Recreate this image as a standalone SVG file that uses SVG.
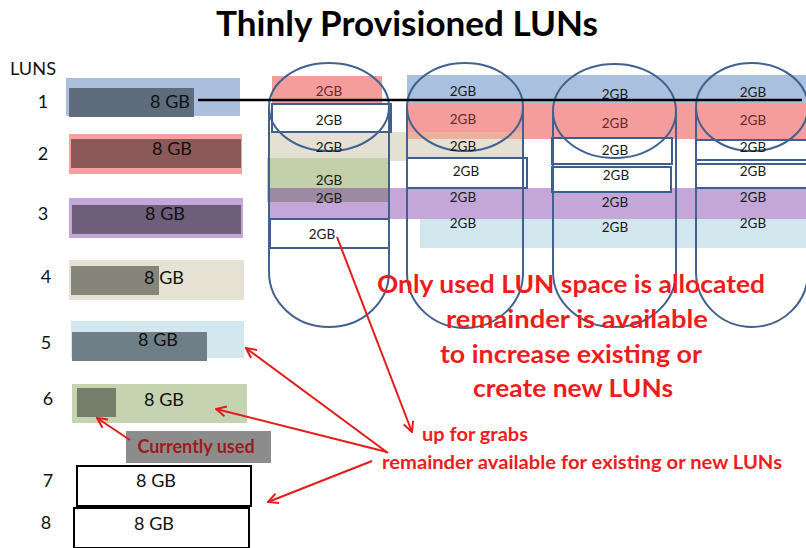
<svg xmlns="http://www.w3.org/2000/svg" width="806" height="548" viewBox="0 0 806 548">
<style>
text{font-family:Lato,"Liberation Sans",sans-serif;dominant-baseline:central}
.title{font-size:34px;font-weight:bold;fill:#000;text-anchor:middle}
.num{font-size:18px;fill:#111;text-anchor:middle}
.gb8{font-size:18px;fill:#111;text-anchor:middle}
.gb2{font-size:13.5px;fill:#1a1a1a;text-anchor:middle}
.gb2r{font-size:13.5px;fill:#6a2828;text-anchor:middle}
.cyl{fill:none;stroke:#41628f;stroke-width:2}
.box{fill:#fff;stroke:#3d5e8e;stroke-width:2}
.lun7{fill:#fff;stroke:#000;stroke-width:2}
.red{font-weight:bold;fill:#ee1c1c;text-anchor:middle}
.big{font-size:25px}
.small{font-size:18px}
.arrow{stroke:#e51b1b;stroke-width:2;fill:none;marker-end:url(#ah)}
</style>
<defs>
<marker id="ah" viewBox="0 0 12 12" refX="11" refY="6" markerWidth="12" markerHeight="12" markerUnits="userSpaceOnUse" orient="auto">
<path d="M1,1 L11,6 L1,11" fill="none" stroke="#e51b1b" stroke-width="2"/>
</marker>
</defs>
<rect width="806" height="548" fill="#fff"/>
<text class="title" x="407" y="22" textLength="382" lengthAdjust="spacingAndGlyphs">Thinly Provisioned LUNs</text>
<text x="33" y="68" style="font-size:17px;fill:#111;text-anchor:middle" textLength="46" lengthAdjust="spacingAndGlyphs">LUNS</text>

<g id="lun1">
<text class="num" x="43" y="101">1</text>
<rect x="66" y="78" width="174" height="38" fill="#a9bfdd"/>
<rect x="69" y="88" width="125" height="29" fill="#5e6c7c"/>
<text class="gb8" x="170" y="101">8 GB</text>
</g>
<g id="lun2">
<text class="num" x="43" y="153">2</text>
<rect x="69" y="134" width="173" height="40" fill="#f6a0a0"/>
<rect x="71" y="139" width="170" height="29" fill="#8c5858"/>
<text class="gb8" x="172" y="148">8 GB</text>
</g>
<g id="lun3">
<text class="num" x="43" y="213">3</text>
<rect x="69" y="198" width="174" height="40" fill="#c4a6d8"/>
<rect x="72" y="205" width="169" height="29" fill="#6e5e7a"/>
<text class="gb8" x="165" y="213">8 GB</text>
</g>
<g id="lun4">
<text class="num" x="46" y="276">4</text>
<rect x="69" y="260" width="175" height="40" fill="#e5e2d3"/>
<rect x="71" y="266" width="88" height="29" fill="#86857a"/>
<text class="gb8" x="164" y="277">8 GB</text>
</g>
<g id="lun5">
<text class="num" x="46" y="342">5</text>
<rect x="71" y="321" width="173" height="37" fill="#d3e7ee"/>
<rect x="72" y="332" width="135" height="29" fill="#6f7f88"/>
<text class="gb8" x="158" y="339">8 GB</text>
</g>
<g id="lun6">
<text class="num" x="48" y="398">6</text>
<rect x="72" y="384" width="175" height="39" fill="#c5d3b0"/>
<rect x="77" y="388" width="39" height="29" fill="#737f6a"/>
<text class="gb8" x="164" y="399">8 GB</text>
</g>
<g id="currently-used">
<rect x="126" y="431" width="145" height="32" fill="#8c8c8c"/>
<text x="196" y="446" style="font-size:18px;font-weight:bold;fill:#9e1b1b;text-anchor:middle">Currently used</text>
</g>
<g id="lun7">
<text class="num" x="48" y="480">7</text>
<rect class="lun7" x="77" y="466" width="174" height="40"/>
<text class="gb8" x="156" y="480">8 GB</text>
</g>
<g id="lun8">
<text class="num" x="46" y="522">8</text>
<rect class="lun7" x="74" y="508" width="175" height="40"/>
<text class="gb8" x="154" y="523">8 GB</text>
</g>

<g id="pool">
<rect x="272" y="76" width="110" height="32" fill="#f59d9d"/>
<rect x="407" y="75" width="399" height="28" fill="#a9c0de"/>
<rect x="270" y="132" width="253" height="29" fill="#e4e1d2"/>
<rect x="407" y="103" width="399" height="36" fill="#f59d9d"/>
<rect x="407" y="132" width="116" height="7" fill="#eeb09c"/>
<rect x="267" y="158" width="121" height="44" fill="#c2d1aa"/>
<rect x="270" y="188" width="536" height="31" fill="#c4a6d8"/>
<rect x="270" y="188" width="118" height="14" fill="#9d8aa2"/>
<rect x="420" y="219" width="386" height="29" fill="#d2e6ee"/>
<rect class="box" x="272" y="104" width="119" height="28"/>
<rect class="box" x="270" y="219" width="119" height="29"/>
<rect class="box" x="407" y="158" width="120" height="30"/>
<rect class="box" x="552" y="138" width="120" height="26"/>
<rect class="box" x="552" y="167" width="119" height="25"/>
<rect class="box" x="696" y="140" width="114" height="20"/>
<rect class="box" x="696" y="164" width="114" height="24"/>
</g>
<g id="cylinder1">
<path class="cyl" d="M269,107 L269,272 A60,55 0 0 0 389,272 L389,107"/>
<ellipse class="cyl" cx="329" cy="107" rx="60" ry="44"/>
</g>
<g id="cylinder2">
<path class="cyl" d="M407,107 L407,273 A58,55 0 0 0 523,273 L523,107"/>
<ellipse class="cyl" cx="465" cy="107" rx="58" ry="44"/>
</g>
<g id="cylinder3">
<path class="cyl" d="M553,111 L553,272 A61.5,55 0 0 0 676,272 L676,111"/>
<ellipse class="cyl" cx="614.5" cy="111" rx="61.5" ry="47"/>
</g>
<g id="cylinder4">
<path class="cyl" d="M696,107 L696,272 A56,55 0 0 0 808,272 L808,107"/>
<ellipse class="cyl" cx="752" cy="107" rx="56" ry="44"/>
</g>
<g id="pool-labels">
<text class="gb2r" x="329" y="91">2GB</text>
<text class="gb2" x="329" y="120">2GB</text>
<text class="gb2" x="329" y="147">2GB</text>
<text class="gb2" x="329" y="180">2GB</text>
<text class="gb2" x="329" y="198">2GB</text>
<text class="gb2" x="322" y="234">2GB</text>
<text class="gb2" x="463" y="91">2GB</text>
<text class="gb2r" x="463" y="119">2GB</text>
<text class="gb2" x="463" y="146">2GB</text>
<text class="gb2" x="466" y="171">2GB</text>
<text class="gb2" x="463" y="197">2GB</text>
<text class="gb2" x="463" y="223">2GB</text>
<text class="gb2" x="615" y="94">2GB</text>
<text class="gb2r" x="615" y="123">2GB</text>
<text class="gb2" x="615" y="150">2GB</text>
<text class="gb2" x="616" y="175">2GB</text>
<text class="gb2" x="615" y="202">2GB</text>
<text class="gb2" x="615" y="227">2GB</text>
<text class="gb2" x="753" y="92">2GB</text>
<text class="gb2r" x="753" y="120">2GB</text>
<text class="gb2" x="753" y="147">2GB</text>
<text class="gb2" x="753" y="171">2GB</text>
<text class="gb2" x="753" y="197">2GB</text>
<text class="gb2" x="753" y="223">2GB</text>
</g>

<g id="connectors">
<line x1="198" y1="100" x2="802" y2="100" stroke="#000" stroke-width="2.5"/>
<line class="arrow" x1="337" y1="237" x2="412" y2="432"/>
<line class="arrow" x1="388" y1="453" x2="246" y2="348"/>
<line class="arrow" x1="387" y1="452" x2="216" y2="409"/>
<line class="arrow" x1="372" y1="461" x2="268" y2="502"/>
<line class="arrow" x1="130" y1="440" x2="97" y2="418"/>
</g>

<g id="notes">
<text class="red big" x="571" y="283" textLength="388" lengthAdjust="spacingAndGlyphs">Only used LUN space is allocated</text>
<text class="red big" x="577" y="318" textLength="262" lengthAdjust="spacingAndGlyphs">remainder is available</text>
<text class="red big" x="571" y="353" textLength="262" lengthAdjust="spacingAndGlyphs">to increase existing or</text>
<text class="red big" x="573" y="387" textLength="200" lengthAdjust="spacingAndGlyphs">create new LUNs</text>
<text class="red small" x="475" y="434" textLength="106" lengthAdjust="spacingAndGlyphs">up for grabs</text>
<text class="red small" x="582" y="462" textLength="400" lengthAdjust="spacingAndGlyphs">remainder available for existing or new LUNs</text>
</g>
</svg>
